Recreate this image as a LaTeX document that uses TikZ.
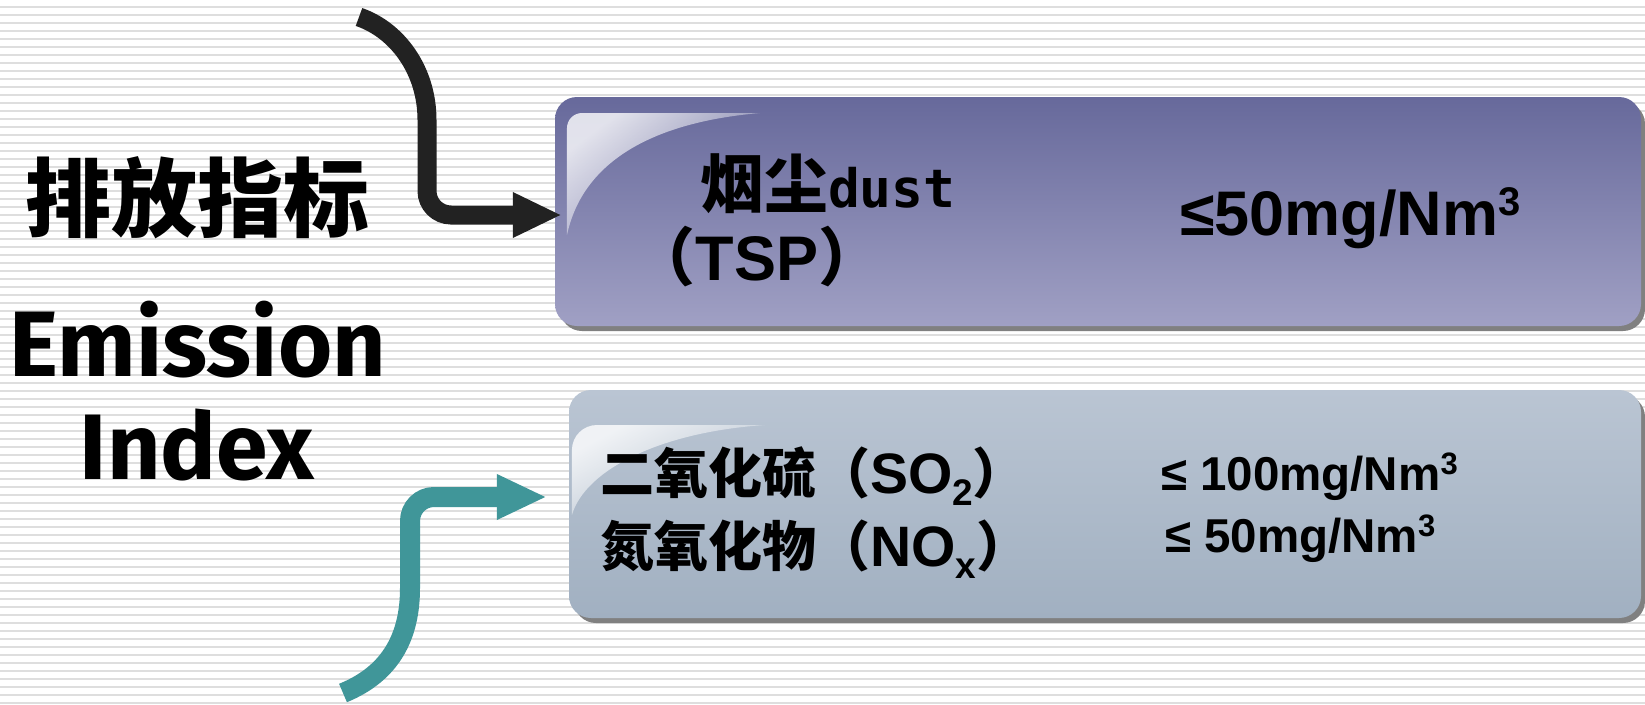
\documentclass[tikz,border=0pt]{standalone}
\usepackage{fontspec}
\usetikzlibrary{arrows.meta,fadings,calc}
\newfontfamily\cjk{Noto Sans CJK SC}
\newfontfamily\latb{Fira Sans}
\newfontfamily\arl{Liberation Sans}
\newfontfamily\mono{DejaVu Sans Mono}
\definecolor{stripec}{RGB}{222,222,222}
\definecolor{shadowc}{RGB}{128,128,128}
\definecolor{boxatop}{RGB}{103,105,155}
\definecolor{boxabot}{RGB}{160,160,196}
\definecolor{boxbtop}{RGB}{186,197,211}
\definecolor{boxbbot}{RGB}{161,176,193}
\definecolor{arrblack}{RGB}{34,34,34}
\definecolor{arrteal}{RGB}{64,150,153}
\begin{document}
\begin{tikzpicture}[x=1pt,y=-1pt,
  txt/.style={inner sep=0pt, outer sep=0pt},
  stripe/.style={draw=stripec, line width=2.5pt},
  boxa/.style={rounded corners=22pt, top color=boxatop, bottom color=boxabot, inner sep=0pt, minimum width=1086pt, minimum height=229pt},
  boxb/.style={rounded corners=22pt, top color=boxbtop, bottom color=boxbbot, inner sep=0pt, minimum width=1072pt, minimum height=228pt},
  shadowbox/.style={fill=shadowc, rounded corners=22pt},
  gloss/.style={fill=white, fill opacity=0.8, path fading=east, fading angle=-40},
  blackarr/.style={draw=arrblack, line width=19pt, -{Triangle[length=49pt,width=42pt]}},
  tealarr/.style={draw=arrteal, line width=20pt, -{Triangle[length=50pt,width=42pt]}}
]
\useasboundingbox (0,0) rectangle (1645,704);
\fill[white] (0,0) rectangle (1645,704);
\foreach \k in {0,...,88} {\draw[stripe] (0,8*\k-1) -- (1645,8*\k-1);}

% boxes
\fill[shadowbox] (560,102) rectangle (1645,331);
\node[boxa] (box1) at (1098,211.5) {};
\fill[gloss] (567,235) -- (567,128) arc[start angle=180,end angle=270,radius=15] -- (760,113) .. controls (655,122) and (583,160) .. (567,235) -- cycle;

\fill[shadowbox] (574,395) rectangle (1645,623);
\node[boxb] (box2) at (1105,504) {};
\fill[gloss] (572,515) -- (572,450) arc[start angle=180,end angle=270,radius=25] -- (765,425) .. controls (660,432) and (585,470) .. (572,515) -- cycle;

% left title
\node[txt] (lt1) at (197,198) {\cjk\bfseries\fontsize{86}{86}\selectfont 排放指标};
\node[txt, anchor=base] (lt2) at (198,376) {\latb\bfseries\fontsize{93}{93}\selectfont Emission};
\node[txt, anchor=base] (lt3) at (197,479) {\latb\bfseries\fontsize{93}{93}\selectfont Index};

% box 1 text
\node[txt, anchor=base west] (d1) at (700,207) {\cjk\bfseries\fontsize{64}{64}\selectfont 烟尘{\mono\bfseries\fontsize{53}{53}\selectfont dust}};
\node[txt, anchor=base] (d2) at (757,280) {\fontsize{63}{63}\selectfont{\cjk\bfseries （}{\arl\bfseries TSP}{\cjk\bfseries ）}};
\node[txt, anchor=base west] (d3) at (1180,235) {\arl\bfseries\fontsize{63}{63}\selectfont ≤50mg/Nm\raisebox{20pt}{\fontsize{40}{40}\selectfont 3}};

% box 2 text
\node[txt, anchor=base west] (g1) at (600,493) {{\cjk\bfseries\fontsize{54}{54}\selectfont 二氧化硫（}{\arl\bfseries\fontsize{57}{57}\selectfont SO\raisebox{-12pt}{\fontsize{37}{37}\selectfont 2}}{\cjk\bfseries\fontsize{54}{54}\selectfont ）}};
\node[txt, anchor=base west] (g2) at (600,566) {{\cjk\bfseries\fontsize{54}{54}\selectfont 氮氧化物（}{\arl\bfseries\fontsize{57}{57}\selectfont NO\raisebox{-12pt}{\fontsize{37}{37}\selectfont x}}{\cjk\bfseries\fontsize{54}{54}\selectfont ）}};
\node[txt, anchor=base west] (v1) at (1161,490) {\arl\bfseries\fontsize{47.5}{47.5}\selectfont ≤ 100mg/Nm\raisebox{16pt}{\fontsize{31}{31}\selectfont 3}};
\node[txt, anchor=base west] (v2) at (1165,552) {\arl\bfseries\fontsize{47.5}{47.5}\selectfont ≤ 50mg/Nm\raisebox{16pt}{\fontsize{31}{31}\selectfont 3}};

% arrows
\coordinate (a1s) at (359,17);
\coordinate (a1e) at ([shift={(7,3.5)}]box1.west);
\coordinate (a2s) at (343,693);
\coordinate (a2e) at ([shift={(-22,-7)}]box2.west);
\draw[blackarr] (a1s) .. controls (397,30) and (427,70) .. (427,120) [rounded corners=24pt] |- (a1e);
\draw[tealarr] (a2s) .. controls (392,673) and (410,635) .. (410,588) [rounded corners=24pt] |- (a2e);
\end{tikzpicture}
\end{document}
